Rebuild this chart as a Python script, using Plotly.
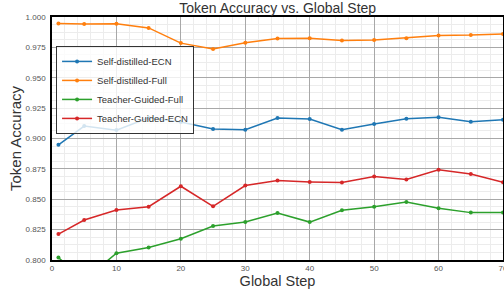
import plotly.graph_objects as go

steps = [1, 5, 10, 15, 20, 25, 30, 35, 40, 45, 50, 55, 60, 65, 70]
self_ecn = [0.8948, 0.9102, 0.9069, 0.9171, 0.9135, 0.9078, 0.9072, 0.9168, 0.9160,
            0.9072, 0.9119, 0.9163, 0.9174, 0.9138, 0.9154]
self_full = [0.9947, 0.9942, 0.9945, 0.9910, 0.9785, 0.9736, 0.9788, 0.9823, 0.9826,
             0.9807, 0.9810, 0.9826, 0.9848, 0.9851, 0.9860]
teacher_full = [0.8020, 0.7835, 0.8056, 0.8103, 0.8175, 0.8279, 0.8312, 0.8386, 0.8312,
                0.8409, 0.8439, 0.8477, 0.8425, 0.8390, 0.8390]
teacher_ecn = [0.8213, 0.8329, 0.8411, 0.8439, 0.8607, 0.8442, 0.8613, 0.8654, 0.8643,
               0.8637, 0.8687, 0.8662, 0.8742, 0.8708, 0.8640]
x_ticks = [0, 10, 20, 30, 40, 50, 60, 70]
y_ticks = [0.8, 0.825, 0.85, 0.875, 0.9, 0.925, 0.95, 0.975, 1.0]

series = [
    ("Self-distilled-ECN", self_ecn, "#1f77b4"),
    ("Self-distilled-Full", self_full, "#ff7f0e"),
    ("Teacher-Guided-Full", teacher_full, "#2ca02c"),
    ("Teacher-Guided-ECN", teacher_ecn, "#d62728"),
]

fig = go.Figure()
for name, vals, color in series:
    fig.add_trace(go.Scatter(
        x=steps, y=vals, name=name, mode="lines+markers",
        line=dict(color=color, width=1.5),
        marker=dict(color=color, size=4),
    ))

font_family = "Liberation Sans, Arial, sans-serif"
fig.update_layout(
    width=504, height=290,
    margin=dict(l=52, r=1, t=17, b=30, autoexpand=False),
    paper_bgcolor="white", plot_bgcolor="white",
    font=dict(family=font_family, color="#333"),
    title=dict(text="Token Accuracy vs. Global Step", x=0.551, xanchor="center",
               y=0.971, yanchor="middle", font=dict(size=14, color="#333")),
    showlegend=True,
    legend=dict(x=0.009, y=0.881, xanchor="left", yanchor="top",
                bgcolor="rgba(255,255,255,0.8)", bordercolor="#333", borderwidth=1,
                font=dict(size=9.5, color="#333"), tracegroupgap=0,
                itemwidth=30),
)
fig.update_xaxes(
    range=[0, 70], tickvals=x_ticks, automargin=False,
    ticklabeloverflow="allow",
    tickfont=dict(size=8, color="#555"),
    title=dict(text="Global Step", font=dict(size=14.5, color="#333"), standoff=3),
    showgrid=True, gridcolor="#a8a8a8", gridwidth=1,
    minor=dict(dtick=2, showgrid=True, gridcolor="#ececec", gridwidth=0.8),
    showline=True, linecolor="black", linewidth=1.5, mirror=True,
    ticks="", zeroline=False,
)
fig.update_yaxes(
    range=[0.8, 1.0], tickvals=y_ticks, automargin=False,
    tickformat=".3f", ticklabelstandoff=3,
    tickfont=dict(size=8, color="#555"),
    title=dict(text="Token Accuracy", font=dict(size=15, color="#333"), standoff=0),
    showgrid=True, gridcolor="#a8a8a8", gridwidth=1,
    minor=dict(dtick=0.00625, showgrid=True, gridcolor="#ececec", gridwidth=0.8),
    showline=True, linecolor="black", linewidth=1.5, mirror=True,
    ticks="", zeroline=False,
)

fig.write_html("out.html", config={"displayModeBar": False},
               post_script="document.body.style.margin='0';")
